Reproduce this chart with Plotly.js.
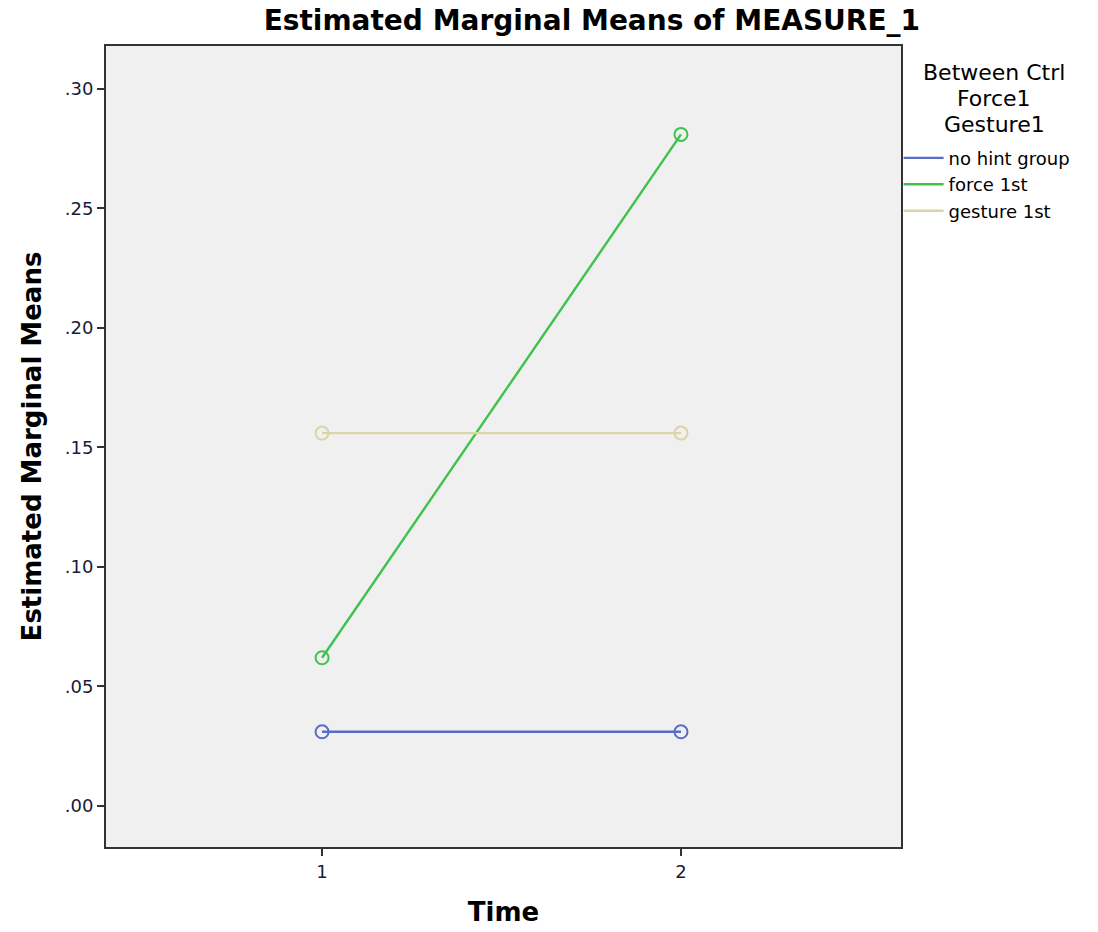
<!DOCTYPE html>
<html><head><meta charset="utf-8">
<script src="https://cdn.plot.ly/plotly-3.0.1.min.js"></script>
<style>body{margin:0;background:#fff}#c{width:1098px;height:932px}</style>
</head><body><div id="c"></div>
<script>
const times = [1, 2];
const groups = ["no hint group", "force 1st", "gesture 1st"];
const noHint = [0.031, 0.031];
const force1st = [0.062, 0.281];
const gesture1st = [0.156, 0.156];
const colors = ["#5b6cc6", "#3fc24d", "#d9d5a5"];
const yTickVals = [0, 0.05, 0.10, 0.15, 0.20, 0.25, 0.30];
const yTickText = [".00", ".05", ".10", ".15", ".20", ".25", ".30"];
const xTickVals = [1, 2];
const xTickText = ["1", "2"];
const legendTitleLines = ["Between Ctrl", "Force1", "Gesture1"];

const series = [noHint, force1st, gesture1st];
const traces = [];
series.forEach((s, i) => {
  traces.push({x: times, y: s, mode: "lines+markers", name: groups[i], showlegend: false,
    line: {color: colors[i], width: 2.4},
    marker: {symbol: "circle-open", size: 13, color: colors[i], line: {width: 2, color: colors[i]}}});
});
series.forEach((s, i) => {
  traces.push({x: [null], y: [null], mode: "lines", name: groups[i], showlegend: true,
    line: {color: colors[i], width: 2.4}});
});

const titleFont = {size: 26, family: "DejaVu Sans, sans-serif", color: "#000"};
const layout = {
  width: 1098, height: 932,
  paper_bgcolor: "#ffffff", plot_bgcolor: "#f0f0f0",
  margin: {l: 106, r: 197, t: 46, b: 85},
  font: {family: "DejaVu Sans, sans-serif", color: "#000"},
  title: {text: "<b>Estimated Marginal Means of MEASURE_1</b>", x: 0.539, xanchor: "center", y: 0.989, yanchor: "top",
    font: {size: 28, family: "DejaVu Sans, sans-serif", color: "#000"}},
  xaxis: {range: [0.398, 2.613], tickvals: xTickVals, ticktext: xTickText, ticks: "outside", ticklen: 7, tickwidth: 2, tickcolor: "#333",
    showgrid: false, zeroline: false, showline: true, linecolor: "#333", linewidth: 2, mirror: true,
    tickfont: {size: 18, color: "#1a1a3a"},
    title: {text: "<b>Time</b>", font: titleFont, standoff: 22}},
  yaxis: {range: [-0.0172, 0.318], tickvals: yTickVals, ticktext: yTickText, ticks: "outside", ticklen: 7, tickwidth: 2, tickcolor: "#333",
    showgrid: false, zeroline: false, showline: true, linecolor: "#333", linewidth: 2, mirror: true,
    tickfont: {size: 18, color: "#1a1a3a"},
    title: {text: "<b>Estimated Marginal Means</b>", font: titleFont, standoff: 16}},
  legend: {x: 0.997, xanchor: "left", y: 0.883, yanchor: "top", bgcolor: "rgba(0,0,0,0)",
    font: {size: 18, color: "#000"}, itemwidth: 40, tracegroupgap: 0},
  annotations: legendTitleLines.map((t, i) => ({
    text: t, xref: "paper", yref: "paper", x: 1.117, xanchor: "center",
    y: 1 - (73 + i * 25.5 - 46) / 801, yanchor: "middle", showarrow: false,
    font: {size: 22, color: "#000", family: "DejaVu Sans, sans-serif"}})),
  showlegend: true
};
Plotly.newPlot("c", traces, layout, {displayModeBar: false, staticPlot: true});
</script></body></html>
